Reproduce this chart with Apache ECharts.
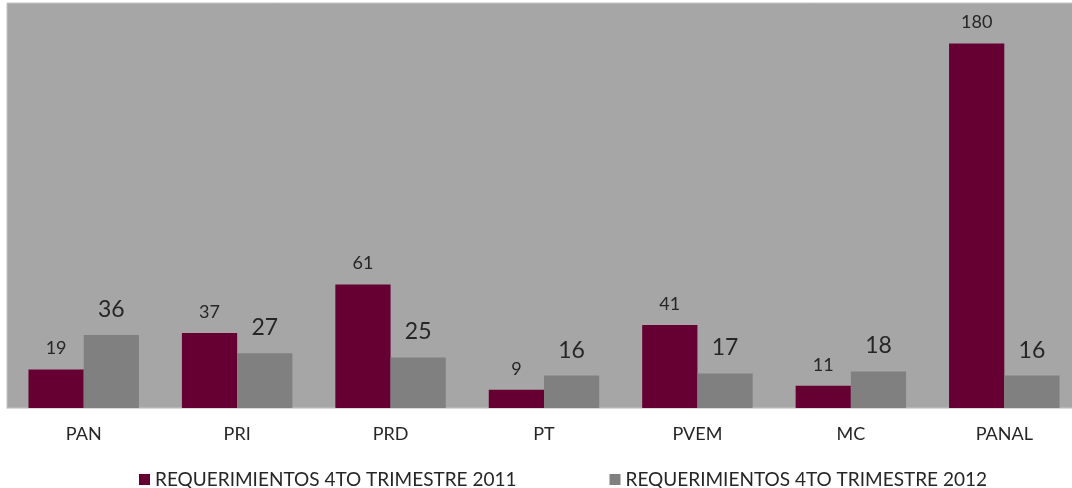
<!DOCTYPE html>
<html>
<head>
<meta charset="utf-8">
<script src="https://cdn.jsdelivr.net/npm/echarts@6/dist/echarts.min.js"></script>
<style>
  html, body { margin: 0; padding: 0; background: #fff; overflow: hidden; }
  #chart { width: 1081px; height: 488px; }
</style>
</head>
<body>
<div id="chart"></div>
<script>
var categories = ['PAN', 'PRI', 'PRD', 'PT', 'PVEM', 'MC', 'PANAL'];
var values2011 = [19, 37, 61, 9, 41, 11, 180];
var values2012 = [36, 27, 25, 16, 17, 18, 16];
var seriesNames = ['REQUERIMIENTOS 4TO TRIMESTRE 2011', 'REQUERIMIENTOS 4TO TRIMESTRE 2012'];

// the plot runs past the right edge of the window, like the reference
var chart = echarts.init(document.getElementById('chart'));
var font = 'Lato, "Open Sans", sans-serif';
var option = {
  animation: false,
  color: ['#660033', '#808080'],
  textStyle: { fontFamily: font },
  grid: {
    left: 7, right: 0, top: 3, bottom: 80,
    show: true,
    backgroundColor: '#a6a6a6',
    borderColor: '#c4c4c4',
    borderWidth: 1
  },
  legend: {
    top: 465,
    left: 134,
    itemWidth: 11,
    itemHeight: 11,
    itemGap: 93,
    icon: 'rect',
    textStyle: { fontSize: 19, color: '#262626', fontFamily: font },
    data: seriesNames
  },
  xAxis: {
    type: 'category',
    data: categories,
    axisTick: { show: false },
    axisLine: { show: true, lineStyle: { color: '#d9d9d9', width: 1 } },
    axisLabel: { fontSize: 18, color: '#262626', margin: 17 }
  },
  yAxis: {
    type: 'value',
    min: 0,
    max: 200,
    show: false,
    splitLine: { show: false }
  },
  series: [{
    name: seriesNames[0],
    type: 'bar',
    barWidth: '36%',
    barGap: '0%',
    data: values2011,
    label: { show: true, position: 'top', distance: 12, fontSize: 18, color: '#262626' }
  }, {
    name: seriesNames[1],
    type: 'bar',
    barWidth: '36%',
    barGap: '0%',
    data: values2012,
    label: { show: true, position: 'top', distance: 14, fontSize: 23, color: '#262626' }
  }]
};
chart.setOption(option);
</script>
</body>
</html>
